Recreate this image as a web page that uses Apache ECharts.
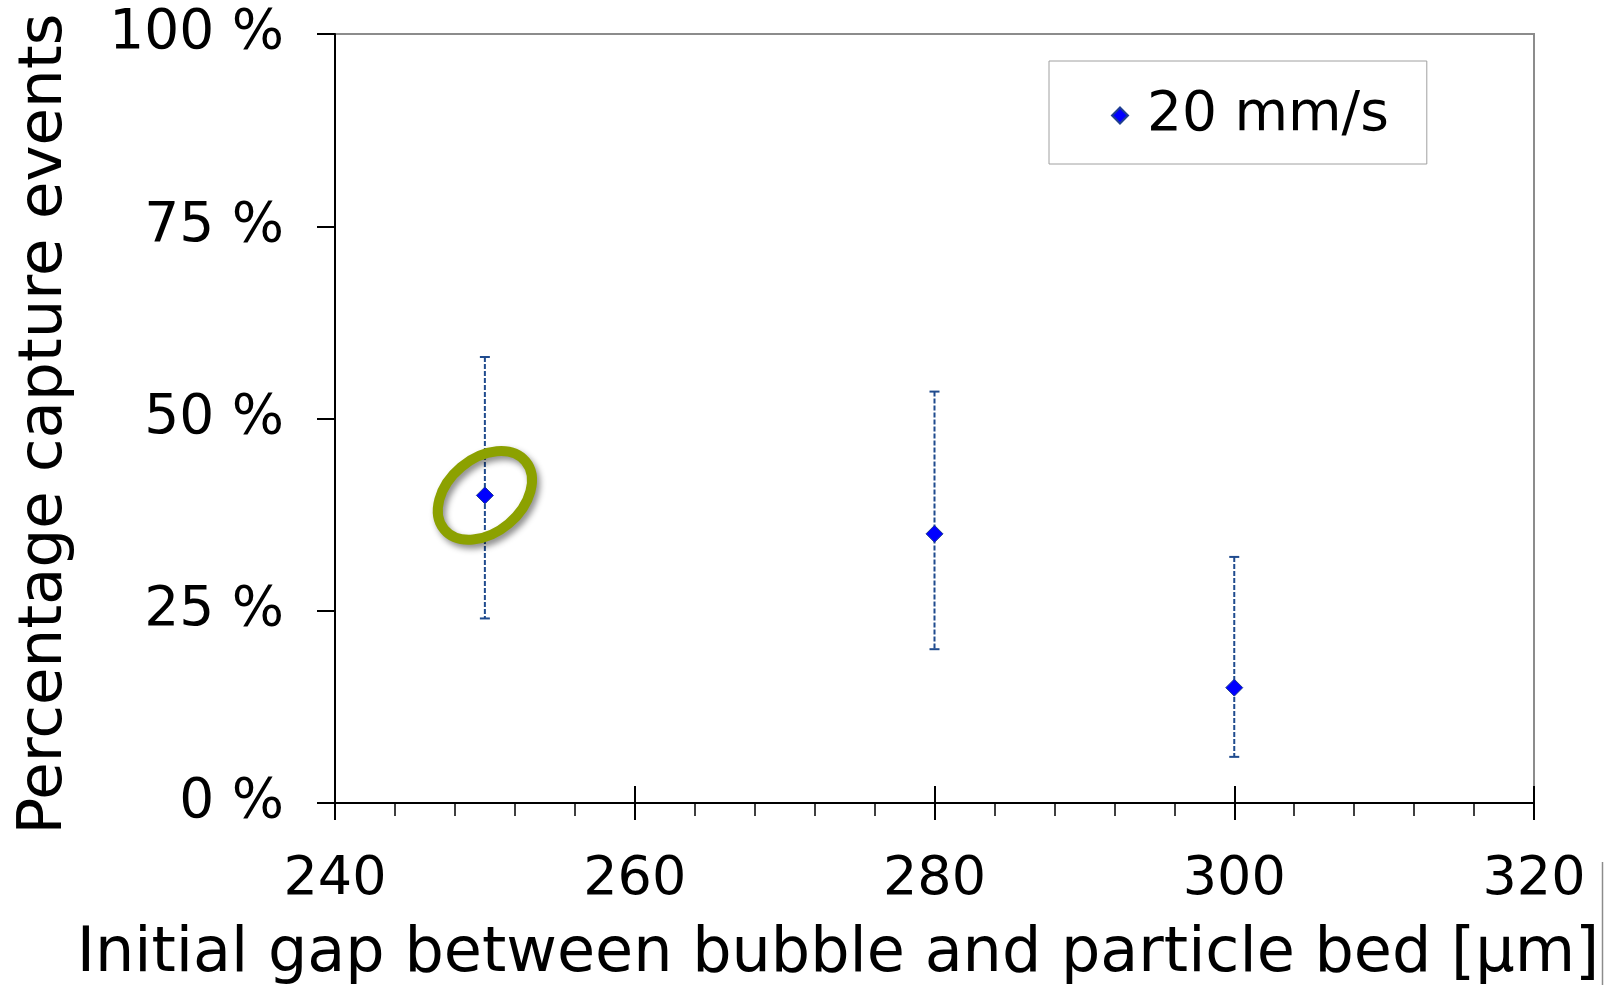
<!DOCTYPE html>
<html>
  <head>
    <meta charset="UTF-8">
    <title>Capture events vs initial gap</title>
    <script src="https://cdn.jsdelivr.net/npm/echarts@6/dist/echarts.min.js"></script>
    <style>
      html, body { margin: 0; padding: 0; background: #fff; }
      #main { width: 1604px; height: 985px; }
    </style>
  </head>
  <body>
    <div id="main"></div>
    <script>
      // data
      var seriesName = '20 mm/s';
      var gaps = [250, 280, 300];          // initial gap [µm]
      var capture = [40, 35, 15];          // % capture events
      var errLow = [24, 20, 6];
      var errHigh = [58, 53.5, 32];
      var highlightIndex = 0;              // point circled in green
      var xTicks = [240, 260, 280, 300, 320];
      var yTicks = [0, 25, 50, 75, 100];

      var font = 'DejaVu Sans, Verdana, sans-serif';
      var barColor = '#1f4b8e';

      var pointData = gaps.map(function (g, i) { return [g, capture[i]]; });
      var errData = gaps.map(function (g, i) { return [g, errLow[i], errHigh[i]]; });
      var ringData = [pointData[highlightIndex]];

      var myChart = echarts.init(document.getElementById('main'));

      var xBase = {
        type: 'value',
        min: xTicks[0],
        max: xTicks[xTicks.length - 1],
        interval: 20,
        position: 'bottom',
        splitLine: { show: false }
      };

      var option = {
        backgroundColor: '#ffffff',
        animation: false,
        grid: {
          left: 335, right: 70, top: 34, bottom: 182,
          show: true, borderColor: '#8c8c8c', borderWidth: 2,
          containLabel: false, outerBoundsMode: 'none'
        },
        legend: {
          data: [seriesName],
          left: 1049, top: 61,
          padding: [27, 38, 21, 62],
          borderColor: '#a0a0a0', borderWidth: 1, borderRadius: 0,
          backgroundColor: '#ffffff',
          icon: 'diamond',
          itemWidth: 16, itemHeight: 16,
          textStyle: { fontFamily: font, fontSize: 55, color: '#000', padding: [0, 0, 0, 14] }
        },
        xAxis: [
          Object.assign({}, xBase, {
            axisLine: { lineStyle: { color: '#000', width: 2 } },
            axisTick: { show: true, inside: false, length: 17, lineStyle: { color: '#000', width: 2 } },
            minorTick: { show: true, splitNumber: 5, length: 13, lineStyle: { color: '#000', width: 1.5 } },
            axisLabel: { margin: 50, fontFamily: font, fontSize: 54, color: '#000' }
          }),
          Object.assign({}, xBase, {
            axisLine: { show: false },
            axisTick: { show: true, inside: true, length: 17, lineStyle: { color: '#000', width: 2 } },
            axisLabel: { show: false }
          })
        ],
        yAxis: {
          type: 'value',
          min: yTicks[0],
          max: yTicks[yTicks.length - 1],
          interval: 25,
          splitLine: { show: false },
          axisLine: { show: true, lineStyle: { color: '#000', width: 2 } },
          axisTick: { show: true, inside: false, length: 18, lineStyle: { color: '#000', width: 2 } },
          axisLabel: {
            margin: 51, fontFamily: font, fontSize: 55, color: '#000',
            padding: [8, 0, 0, 0], formatter: '{value} %'
          }
        },
        graphic: [
          {
            type: 'text', x: 838, y: 955,
            style: {
              text: 'Initial gap between bubble and particle bed [µm]',
              font: '62px ' + font, fill: '#000',
              textAlign: 'center', textVerticalAlign: 'middle'
            }
          },
          {
            type: 'text', x: 45, y: 424, rotation: Math.PI / 2,
            style: {
              text: 'Percentage capture events',
              font: '61px ' + font, fill: '#000',
              textAlign: 'center', textVerticalAlign: 'middle'
            }
          },
          {
            type: 'line', shape: { x1: 1602.5, y1: 862, x2: 1602.5, y2: 985 },
            style: { stroke: '#8c8c8c', lineWidth: 1.5 }
          }
        ],
        series: [
          {
            name: 'error',
            type: 'custom',
            data: errData,
            encode: { x: 0, y: [1, 2] },
            z: 2,
            renderItem: function (params, api) {
              var x = api.value(0);
              var top = api.coord([x, api.value(2)]);
              var bot = api.coord([x, api.value(1)]);
              var hw = 5;
              return {
                type: 'group',
                children: [
                  { type: 'line', shape: { x1: top[0], y1: top[1], x2: bot[0], y2: bot[1] },
                    style: { stroke: barColor, lineWidth: 2, lineDash: [5, 2] } },
                  { type: 'line', shape: { x1: top[0] - hw, y1: top[1], x2: top[0] + hw, y2: top[1] },
                    style: { stroke: barColor, lineWidth: 2 } },
                  { type: 'line', shape: { x1: bot[0] - hw, y1: bot[1], x2: bot[0] + hw, y2: bot[1] },
                    style: { stroke: barColor, lineWidth: 2 } }
                ]
              };
            }
          },
          {
            name: seriesName,
            type: 'scatter',
            data: pointData,
            symbol: 'diamond',
            symbolSize: 17,
            z: 3,
            itemStyle: { color: '#0000ff', borderColor: '#1f3f8f', borderWidth: 1, opacity: 1 }
          },
          {
            name: 'highlight',
            type: 'custom',
            data: ringData,
            z: 4,
            renderItem: function (params, api) {
              var c = api.coord([api.value(0), api.value(1)]);
              return {
                type: 'ellipse',
                x: c[0], y: c[1],
                rotation: 40 * Math.PI / 180,
                shape: { cx: 0, cy: 0, rx: 53, ry: 37 },
                style: {
                  fill: 'none', stroke: '#8ca100', lineWidth: 10,
                  shadowBlur: 6, shadowOffsetX: 3, shadowOffsetY: 4,
                  shadowColor: 'rgba(0,0,0,0.45)'
                }
              };
            }
          }
        ]
      };

      myChart.setOption(option);
    </script>
  </body>
</html>
